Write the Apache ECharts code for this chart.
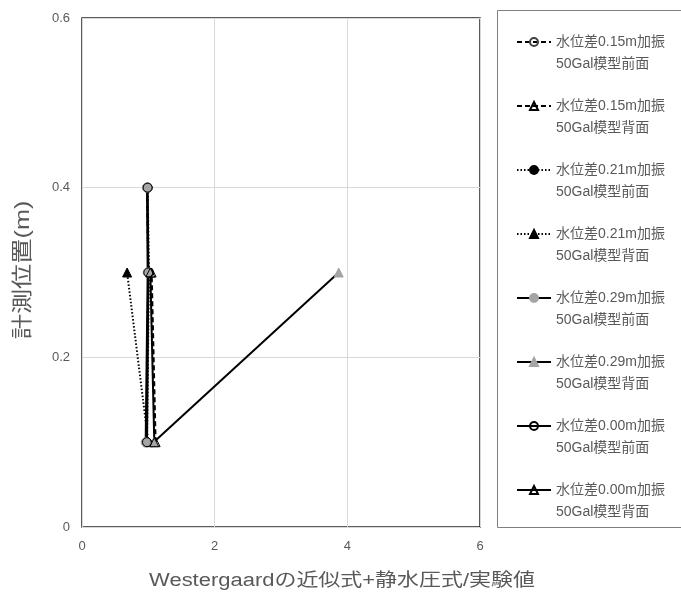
<!DOCTYPE html>
<html>
<head>
<meta charset="utf-8">
<script src="https://cdn.jsdelivr.net/npm/echarts@6/dist/echarts.min.js"></script>
<style>
  html, body { margin: 0; padding: 0; background: #fff; }
  #chart { width: 681px; height: 592px; }
</style>
</head>
<body>
<div id="chart"></div>
<script>
// Measurement heights (m)
const frontHeights = [0.1, 0.3, 0.4];
const backHeights = [0.1, 0.3];

// Ratio: Westergaard approx. + hydrostatic / experiment
const d015Front = [0.97, 1.00, 0.98];
const d015Back  = [1.11, 1.05];
const d021Front = [0.98, 1.01, 0.99];
const d021Back  = [1.00, 0.68];
const d029Front = [0.96, 0.99, 0.98];
const d029Back  = [1.08, 3.87];
const d000Front = [0.98, 1.00, 0.99];
const d000Back  = [1.09, 1.03];

const seriesNames = [
  '水位差0.15m加振\n50Gal模型前面',
  '水位差0.15m加振\n50Gal模型背面',
  '水位差0.21m加振\n50Gal模型前面',
  '水位差0.21m加振\n50Gal模型背面',
  '水位差0.29m加振\n50Gal模型前面',
  '水位差0.29m加振\n50Gal模型背面',
  '水位差0.00m加振\n50Gal模型前面',
  '水位差0.00m加振\n50Gal模型背面'
];

const xTitle = 'Westergaardの近似式+静水圧式/実験値';
const yTitle = '計測位置(m)';

const xTicks = [0, 2, 4, 6];
const yTicks = [0, 0.2, 0.4, 0.6];

const FONT = '"Liberation Sans", Arial, "Noto Sans CJK JP", sans-serif';
const TXT = '#595959';
const LEG_LINE = 22;

function pairs(xs, ys) { return xs.map((x, i) => [x, ys[i]]); }

function mk(name, xs, ys, lineType, symbol, fill, border) {
  return {
    name: name,
    type: 'line',
    data: pairs(xs, ys),
    symbol: symbol,
    symbolSize: 9,
    showSymbol: true,
    lineStyle: { color: '#000', width: 2, type: lineType },
    itemStyle: { color: fill, borderColor: border, borderWidth: 1 },
    emphasis: { disabled: true },
    animation: false,
    z: 3
  };
}

const OPEN = 'rgba(0,0,0,0)';
const GRAY = '#a5a5a5';

const series = [
  mk(seriesNames[0], d015Front, frontHeights, [5, 3], 'circle', OPEN, '#404040'),
  mk(seriesNames[1], d015Back, backHeights, [5, 3], 'triangle', OPEN, '#000'),
  mk(seriesNames[2], d021Front, frontHeights, [1.5, 2], 'circle', '#000', '#000'),
  mk(seriesNames[3], d021Back, backHeights, [1.5, 2], 'triangle', '#000', '#000'),
  mk(seriesNames[4], d029Front, frontHeights, 'solid', 'circle', GRAY, GRAY),
  mk(seriesNames[5], d029Back, backHeights, 'solid', 'triangle', GRAY, GRAY),
  mk(seriesNames[6], d000Front, frontHeights, 'solid', 'circle', OPEN, '#000'),
  mk(seriesNames[7], d000Back, backHeights, 'solid', 'triangle', OPEN, '#000')
];

const chart = echarts.init(document.getElementById('chart'), null, { renderer: 'canvas' });
chart.setOption({
  backgroundColor: '#fff',
  animation: false,
  grid: { left: 82, top: 18, width: 398, height: 509, show: true, borderColor: '#262626', borderWidth: 1.5, backgroundColor: 'transparent' },
  xAxis: {
    type: 'value', min: 0, max: 6, interval: 2,
    axisLine: { show: false },
    axisTick: { show: false },
    axisLabel: { fontFamily: FONT, fontSize: 13, color: TXT, margin: 13, formatter: v => xTicks.includes(v) ? String(v) : '' },
    splitLine: { show: true, lineStyle: { color: '#d9d9d9', width: 1 } }
  },
  yAxis: {
    type: 'value', min: 0, max: 0.6, interval: 0.2,
    axisLine: { show: false },
    axisTick: { show: false },
    axisLabel: { fontFamily: FONT, fontSize: 13, color: TXT, margin: 12,
      formatter: v => { const t = yTicks.find(y => Math.abs(y - v) < 1e-9); return t === undefined ? '' : (t === 0 ? '0' : t.toFixed(1)); } },
    splitLine: { show: true, lineStyle: { color: '#d9d9d9', width: 1 } }
  },
  legend: {
    orient: 'vertical',
    left: 516, top: 42 - LEG_LINE * 1.5,
    padding: 0,
    itemWidth: 34, itemHeight: 10,
    itemGap: 64 - LEG_LINE * 3,
    selectedMode: false,
    // leading blank line keeps the icon level with the first text line
    formatter: name => '\n' + name,
    textStyle: { fontFamily: FONT, fontSize: 14, color: TXT, lineHeight: LEG_LINE },
    data: seriesNames
  },
  graphic: [
    {
      type: 'rect',
      shape: { x: 497.5, y: 10.5, width: 200, height: 517 },
      style: { fill: 'none', stroke: '#7f7f7f', lineWidth: 1 },
      silent: true
    },
    // axis titles, drawn with a slightly widened face
    {
      type: 'text', x: 342, y: 581, scaleX: 1.22,
      style: { text: xTitle, font: '18px ' + FONT, fill: TXT, align: 'center', verticalAlign: 'middle' },
      silent: true
    },
    {
      type: 'text', x: 23, y: 270, rotation: Math.PI / 2, scaleX: 1.2,
      style: { text: yTitle, font: '21px ' + FONT, fill: TXT, align: 'center', verticalAlign: 'middle' },
      silent: true
    }
  ],
  series: series
});
</script>
</body>
</html>
